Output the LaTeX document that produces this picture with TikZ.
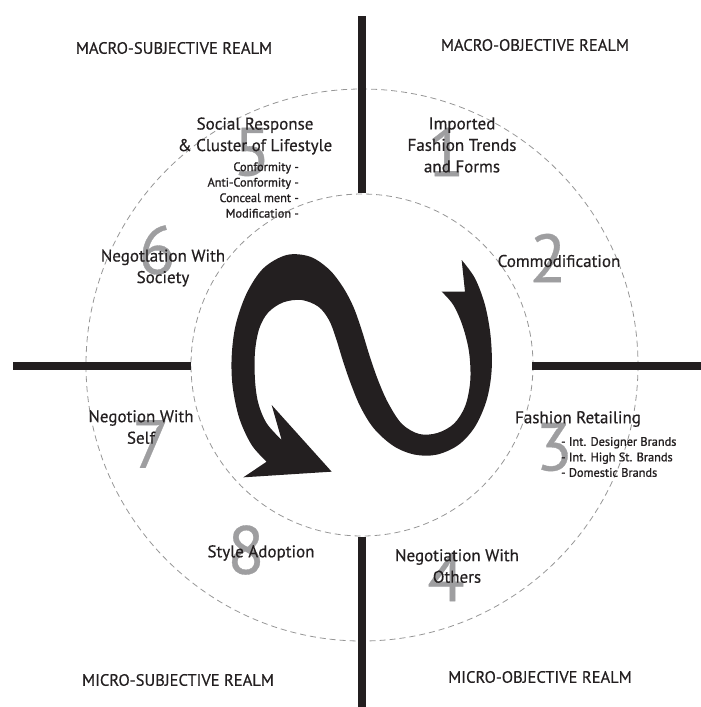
\documentclass[tikz,border=0pt]{standalone}
\usepackage{fontspec}
\setmainfont{PT Sans}
\newfontfamily\medfont{PT Sans}[FakeBold=0.5]
\newfontfamily\semifont{PT Sans}[FakeBold=1.2]
\definecolor{ink}{RGB}{35,31,32}
\definecolor{numgray}{RGB}{158,158,160}
\definecolor{dashgray}{RGB}{150,150,150}
\begin{document}
\begin{tikzpicture}[x=1pt,y=-1pt,
  axis/.style={line width=8pt, draw=ink},
  ring/.style={draw=dashgray, line width=0.8pt, dash pattern=on 6pt off 4pt},
  num/.style={text=numgray, font=\medfont\fontsize{68}{68}\selectfont, inner sep=0pt},
  lbl/.style={text=ink, font=\medfont\fontsize{17}{21.5}\selectfont, align=center, inner sep=0pt},
  smalltxt/.style={text=ink, font=\semifont\fontsize{12.3}{15.5}\selectfont, inner sep=0pt},
  realm/.style={text=ink, font=\medfont\fontsize{16.5}{16.5}\selectfont, inner sep=0pt}]
\useasboundingbox (0,0) rectangle (701,707);
\coordinate (c) at (362,365);
% rings
\draw[ring] (c) circle[radius=171];
\draw[ring] (c) circle[radius=276];
% axes
\coordinate (tA) at (362,16);  \coordinate (tB) at (362,193);
\coordinate (bA) at (362,537); \coordinate (bB) at (362,707);
\coordinate (lA) at (13,366);  \coordinate (lB) at (191,366);
\coordinate (rA) at (532,366); \coordinate (rB) at (701,366);
\draw[axis] (tA) -- (tB);
\draw[axis] (bA) -- (bB);
\draw[axis] (lA) -- (lB);
\draw[axis] (rA) -- (rB);
% big numbers
\node[num] (n1) at (446,152) {1};
\node[num] (n2) at (548,258) {2};
\node[num] (n3) at (554,447) {3};
\node[num] (n4) at (446,577) {4};
\node[num] (n5) at (252,152) {5};
\node[num] (n6) at (157,250) {6};
\node[num] (n7) at (151,444) {7};
\node[num] (n8) at (246,550) {8};
% S arrow
\begin{scope}[shift={(220,240)}, scale=1/3]
\fill[ink] (335,695) -- (70,712) -- plot[smooth, tension=0.55] coordinates {
 (140,665) (95,615) (58,535) (38,440) (35,350) (47,255) (80,160) (130,85)
 (200,45) (270,50) (327,88) (368,140) (400,200) (425,270) (448,345) (474,420)
 (505,490) (546,552) (598,582) (652,579) (702,551) (736,497) (751,420)
 (747,335) (728,258) (700,195) (665,155)}
 -- (735,155) -- plot[smooth, tension=0.55] coordinates {
 (725,60) (765,115) (795,195) (812,290) (815,390) (800,480) (765,560)
 (715,615) (650,644) (585,644) (522,619) (463,567) (422,502) (392,430)
 (368,360) (348,295) (327,240) (295,200) (245,180) (190,187) (145,217)
 (118,265) (105,335) (105,420) (115,490) (140,550) (185,600)}
 -- (155,495) -- cycle;
\end{scope}
% labels
\node[lbl] (l1) at (462,145) {Imported\\Fashion Trends\\and Forms};
\node[lbl] (l2) at (559,261) {Commodification};
\node[lbl] (l3) at (578,419) {Fashion Retailing};
\node[smalltxt, anchor=west, align=left] (l3s) at (561,457) {- Int. Designer Brands\\- Int. High St. Brands\\- Domestic Brands};
\node[lbl] (l4) at (457,566) {Negotiation With\\Others};
\node[lbl] (l5) at (255,136) {Social Response\\\& Cluster of Lifestyle};
\node[smalltxt, anchor=east, align=right] (l5s) at (299,190) {Conformity -\\Anti-Conformity -\\Conceal ment -\\Modification -};
\node[lbl] (l6) at (163,268) {Negotlation With\\Society};
\node[lbl] (l7) at (141,427) {Negotion With\\Self};
\node[lbl] (l8) at (261,553) {Style Adoption};
% realms
\node[realm] (r1) at (174,48) {MACRO-SUBJECTIVE REALM};
\node[realm] (r2) at (535,45) {MACRO-OBJECTIVE REALM};
\node[realm] (r3) at (178,680) {MICRO-SUBJECTIVE REALM};
\node[realm] (r4) at (540,677) {MICRO-OBJECTIVE REALM};
\end{tikzpicture}
\end{document}
